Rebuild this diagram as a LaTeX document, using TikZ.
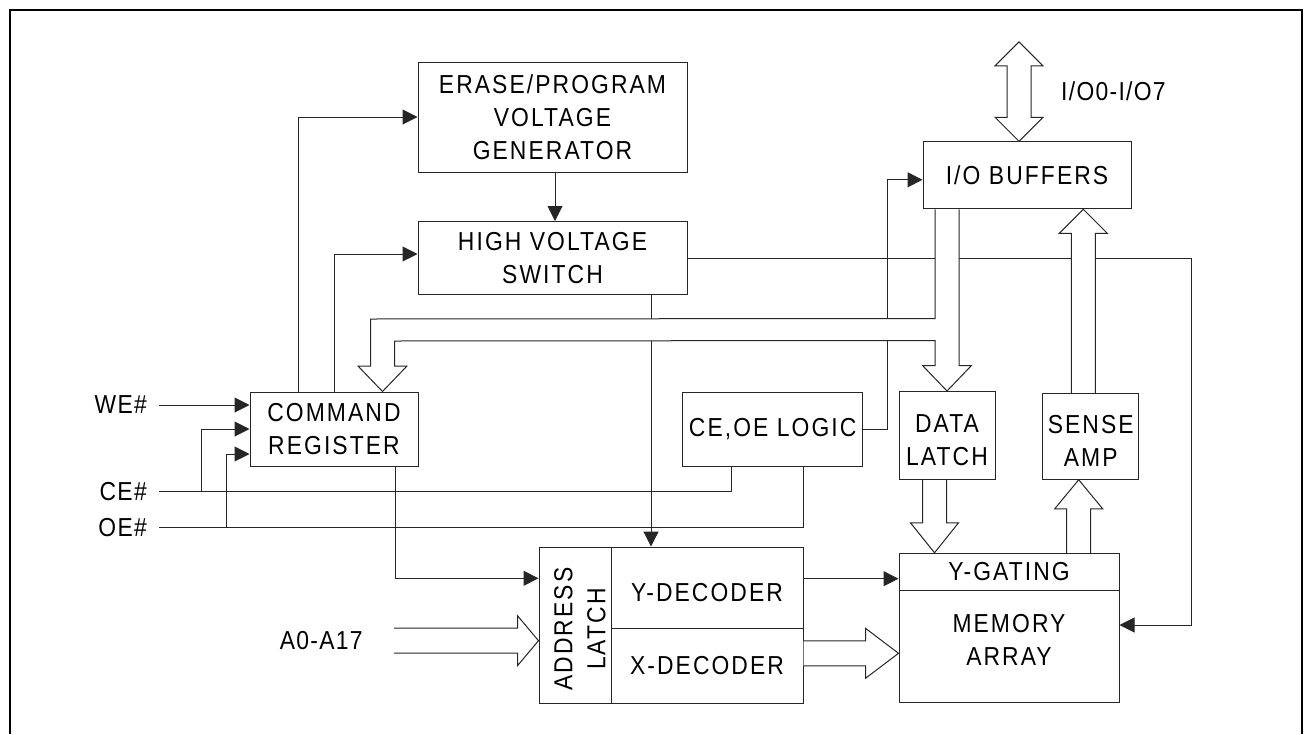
\documentclass[tikz,border=0pt]{standalone}
\usepackage{fontspec}
\setmainfont{Liberation Sans}[FakeStretch=0.88,LetterSpace=8]
\newfontfamily\lblfont{Liberation Sans}[FakeStretch=0.88,LetterSpace=5]
\usetikzlibrary{arrows.meta,calc,positioning}
\pgfdeclarelayer{wires}
\pgfsetlayers{wires,main}

\tikzset{
	blk/.style={draw=black!85,line width=1pt,rectangle,inner sep=0pt,align=center,font=\fontsize{26}{33}\selectfont},
	txt/.style={inner sep=0pt,align=center,font=\fontsize{26}{33}\selectfont},
	lbl/.style={inner sep=0pt,font={\lblfont\fontsize{26}{33}\selectfont}},
	sig/.style={draw=black!85,line width=1pt},
	arr/.style={sig,-{Triangle[length=15pt,width=15pt]}},
	bus/.style={draw=black!85,line width=1pt,fill=white},
	frame/.style={draw=black,line width=2.5pt}
}

\begin{document}
\begin{tikzpicture}[x=1pt,y=-1pt]
	\useasboundingbox (0,0) rectangle (1304,734);
	\draw[frame] (10,734) -- (10,10) -- (1302,10) -- (1302,734);

	% blocks
	\node[blk,minimum width=269pt,minimum height=110pt] (eg) at (552.5,117) {ERASE/PROGRAM\\VOLTAGE\\GENERATOR};
	\node[blk,minimum width=269pt,minimum height=73pt] (hv) at (552.5,258) {HIGH VOLTAGE\\SWITCH};
	\node[blk,minimum width=168pt,minimum height=74pt] (cr) at (334,429) {COMMAND\\REGISTER};
	\node[blk,minimum width=180pt,minimum height=74pt] (lg) at (772.7,429) {CE,OE LOGIC};
	\node[blk,minimum width=208pt,minimum height=67pt] (io) at (1027,175.3) {I/O BUFFERS};
	\node[blk,minimum width=96pt,minimum height=88pt,text height=60.6pt] (dl) at (947,435.5) {DATA\\LATCH};
	\node[blk,minimum width=96pt,minimum height=86pt,text height=60.6pt] (sa) at (1090.7,436.3) {SENSE\\AMP};
	\node[blk,minimum width=220pt,minimum height=37.4pt] (yg) at (1009,572) {Y-GATING};
	\node[blk,minimum width=220pt,minimum height=112.3pt,text depth=14pt] (ma) at (1009,646.8) {MEMORY\\ARRAY};
	\node[blk,minimum width=72pt,minimum height=156pt] (al) at (575,625) {};
	\node[txt,rotate=90] (altxt) at ($(al.center)+(5,4)$) {ADDRESS\\LATCH};
	\node[blk,minimum width=192pt,minimum height=81.3pt,text height=28.5pt] (yd) at (707,587.7) {Y-DECODER};
	\node[blk,minimum width=192pt,minimum height=74.7pt] (xd) at (707,665.7) {X-DECODER};

	% inputs
	\coordinate (we) at (159,405);
	\coordinate (ce) at (159,491.7);
	\coordinate (oe) at (159,527.7);
	\coordinate (a0) at (393.9,640.7);
	\node[lbl,left=12pt of we] (welbl) {WE\#};
	\node[lbl,left=12pt of ce] (celbl) {CE\#};
	\node[lbl,left=12pt of oe] (oelbl) {OE\#};
	\node[lbl,left=31pt of a0] (a0lbl) {A0-A17};

	% control lines
	\begin{pgfonlayer}{wires}
		\draw[arr] ([xshift=-36pt]cr.north) |- (eg.west);
		\draw[arr] (cr.north) |- ([yshift=4pt]hv.west);
		\draw[arr] ([xshift=2.5pt]eg.south) -- ([xshift=2.5pt]hv.north);
		\coordinate (hvo) at ([xshift=98.5pt]hv.south);
		\draw[arr] (hvo) -- (hvo |- yd.north);
		\coordinate (mafeed) at ([yshift=21.8pt]ma.east);
		\draw[arr] (hv.east) -- ++(503.7,0) |- (mafeed);
		\draw[arr] (lg.east) -- ++(24,0) |- ([yshift=-4.5pt]io.west);
		\draw[arr] (we) -- (we -| cr.west);
		\draw[sig] (ce) -| ([xshift=-41.7pt]lg.south);
		\draw[sig] (oe) -| ([xshift=30.3pt]lg.south);
		\draw[arr] ($(ce)+(42.7,0)$) |- (cr.west);
		\draw[arr] ($(oe)+(67.7,0)$) |- ([yshift=-25pt]cr.west);
		\draw[arr] ([xshift=61pt]cr.south) |- ([yshift=46.7pt]al.west);
		\coordinate (ydo) at ([yshift=9pt]yd.east);
		\draw[arr] (ydo) -- (ydo -| yg.west);
	\end{pgfonlayer}

	% buses
	\coordinate (altip) at ([yshift=-15.7pt]al.west);
	\filldraw[bus] ($(a0)+(0,-12.5)$) -- ($(altip)+(-21,-12.5)$) -- ($(altip)+(-21,-25)$) -- (altip)
		-- ($(altip)+(-21,25)$) -- ($(altip)+(-21,12.5)$) -- ($(a0)+(0,12.5)$);
	\coordinate (matip) at ([yshift=-6.5pt]ma.west);
	\filldraw[bus] ($(xd.east |- matip)+(0,-12.5)$) -- ($(matip)+(-33,-12.5)$) -- ($(matip)+(-33,-25)$) -- (matip)
		-- ($(matip)+(-33,25)$) -- ($(matip)+(-33,12.5)$) -- ($(xd.east |- matip)+(0,12.5)$);
	\coordinate (ygtip) at ([xshift=-74.5pt]yg.north);
	\filldraw[bus] ($(ygtip |- dl.south)+(-12,0)$) -- ($(ygtip)+(-12,-30)$) -- ($(ygtip)+(-24,-30)$) -- (ygtip)
		-- ($(ygtip)+(24,-30)$) -- ($(ygtip)+(12,-30)$) -- ($(ygtip |- dl.south)+(12,0)$);
	\coordinate (satip) at ([xshift=-12pt]sa.south);
	\filldraw[bus] ($(satip |- yg.north)+(-12,0)$) -- ($(satip)+(-12,29)$) -- ($(satip)+(-24,29)$) -- (satip)
		-- ($(satip)+(24,29)$) -- ($(satip)+(12,29)$) -- ($(satip |- yg.north)+(12,0)$);
	\coordinate (iotip) at ([xshift=56.3pt]io.south);
	\filldraw[bus] ($(iotip |- sa.north)+(-12,0)$) -- ($(iotip)+(-12,24)$) -- ($(iotip)+(-24,24)$) -- (iotip)
		-- ($(iotip)+(24,24)$) -- ($(iotip)+(12,24)$) -- ($(iotip |- sa.north)+(12,0)$);
	\coordinate (ioin) at ([xshift=-8pt]io.north);
	\coordinate (ioext) at ($(ioin)+(0,-99.4)$);
	\filldraw[bus] (ioin) -- ($(ioin)+(-24,-24)$) -- ($(ioin)+(-12,-24)$) -- ($(ioext)+(-12,24)$) -- ($(ioext)+(-24,24)$) -- (ioext)
		-- ($(ioext)+(24,24)$) -- ($(ioext)+(12,24)$) -- ($(ioin)+(12,-24)$) -- ($(ioin)+(24,-24)$) -- cycle;
	\coordinate (iomid) at ($(ioin)!0.5!(ioext)$);
	\node[lbl,right=42pt of iomid] (iolbl) {I/O0-I/O7};
	\coordinate (dltip) at (dl.north);
	\coordinate (crtip) at ([xshift=48.5pt]cr.north);
	\filldraw[bus] ($(dltip |- io.south)+(-12,0)$) -- ($(dltip)+(-12,-72.5)$) -- ($(crtip)+(-12,-72.5)$)
		-- ($(crtip)+(-12,-25.5)$) -- ($(crtip)+(-24.5,-25.5)$) -- (crtip) -- ($(crtip)+(24.5,-25.5)$) -- ($(crtip)+(12,-25.5)$)
		-- ($(crtip)+(12,-50.5)$) -- ($(dltip)+(-12,-50.5)$)
		-- ($(dltip)+(-12,-25.5)$) -- ($(dltip)+(-24.5,-25.5)$) -- (dltip) -- ($(dltip)+(24.5,-25.5)$) -- ($(dltip)+(12,-25.5)$)
		-- ($(dltip |- io.south)+(12,0)$);
\end{tikzpicture}
\end{document}
